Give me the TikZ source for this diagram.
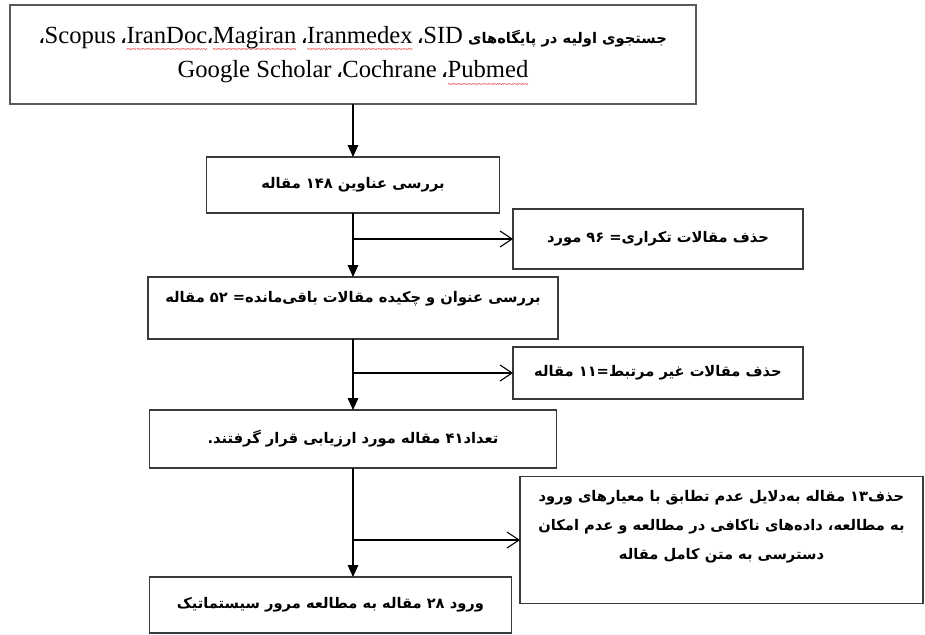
\documentclass[tikz,border=0pt]{standalone}
\usepackage{fontspec}
\setmainfont{Liberation Serif}
\newfontfamily\farsi[Script=Arabic]{DejaVu Sans}
\TeXXeTstate=1
\usetikzlibrary{positioning, arrows.meta}
\definecolor{boxline}{HTML}{3A3A3A}
\definecolor{topline}{HTML}{5A5A5A}
\definecolor{spellred}{HTML}{E04040}

\newcommand\latfont{\rmfamily\mdseries\fontsize{18.5}{26}\selectfont}
\newcommand\lat[1]{\beginL{\latfont #1}\endL}
% red spell-check wave under a latin word
\newcommand\wavy[1]{\beginL\setbox0\hbox{\latfont #1}%
  \rlap{\color{spellred}\raisebox{-7pt}[0pt][0pt]{\hbox to \wd0{\xleaders\hbox{\rmfamily\fontsize{7}{7}\selectfont\char"7E}\hfill}}}%
  \box0\endL}

\begin{document}
\begin{tikzpicture}[
    x=0.75pt, y=-0.75pt,
    box/.style={rectangle, draw=boxline, line width=0.9pt, align=center, inner sep=2pt, outer sep=0pt,
                font=\farsi\bfseries\fontsize{11}{21.75}\selectfont},
    arrow/.style={-{Triangle[length=9pt, width=8pt]}, line width=0.8pt},
    sidearrow/.style={-{Straight Barb[length=9pt, width=12pt]}, line width=0.8pt}
  ]
    \useasboundingbox (0,0) rectangle (925,635);

    % main column
    \node[box, draw=topline, line width=1.4pt, minimum width=514.5pt, minimum height=74.25pt,
          font=\farsi\bfseries\fontsize{11}{26}\selectfont] (search) at (353,54.5)
      {\beginR جستجوی اولیه در پایگاه^^^^200cهای \lat{SID}، \wavy{Iranmedex}، \wavy{Magiran}،\wavy{IranDoc}، \lat{Scopus}،\endR\\
       \beginR \wavy{Pubmed}، \lat{Cochrane}، \lat{Google Scholar}\endR};
    \node[box, below=39.75pt of search, minimum width=219.75pt, minimum height=42pt] (titles)
      {\beginR بررسی عناوین ۱۴۸ مقاله\endR};
    \node[box, below=48pt of titles, minimum width=307.5pt, minimum height=46.5pt, text depth=16pt] (abstracts)
      {\beginR بررسی عنوان و چکیده مقالات باقی^^^^200cمانده=  ۵۲ مقاله\endR};
    \node[box, below=53.25pt of abstracts, minimum width=305.25pt, minimum height=43.5pt] (assess)
      {\beginR تعداد۴۱ مقاله مورد ارزیابی قرار گرفتند.\endR};
    \node[box, below=81.75pt of assess.south west, anchor=north west, minimum width=271.5pt, minimum height=42pt] (final)
      {\beginR ورود ۲۸ مقاله به مطالعه مرور سیستماتیک\endR};

    % exclusions
    \coordinate[below=19.5pt of titles.south] (split1);
    \coordinate[below=25.5pt of abstracts.south] (split2);
    \coordinate[below=54pt of assess.south] (split3);
    \node[box, right=120pt of split1, minimum width=217.5pt, minimum height=45pt] (dup)
      {\beginR حذف مقالات تکراری= ۹۶ مورد\endR};
    \node[box, right=120pt of split2, minimum width=217.5pt, minimum height=39pt] (unrel)
      {\beginR حذف مقالات غیر مرتبط=۱۱ مقاله\endR};
    \node[box, right=125.25pt of split3, minimum width=302.25pt, minimum height=95.25pt, text depth=22pt] (excl)
      {\beginR حذف۱۳ مقاله به^^^^200cدلایل عدم تطابق با معیارهای ورود\endR\\
       \beginR به مطالعه، داده^^^^200cهای ناکافی در مطالعه و عدم امکان\endR\\
       \beginR دسترسی به متن کامل مقاله\endR};

    \draw[arrow] (search) -- (titles);
    \draw[arrow] (titles) -- (abstracts);
    \draw[arrow] (abstracts) -- (assess);
    \draw[arrow] (assess.south) -- (assess.south |- final.north);
    \draw[sidearrow] (split1) -- (dup);
    \draw[sidearrow] (split2) -- (unrel);
    \draw[sidearrow] (split3) -- (excl);
\end{tikzpicture}
\end{document}
